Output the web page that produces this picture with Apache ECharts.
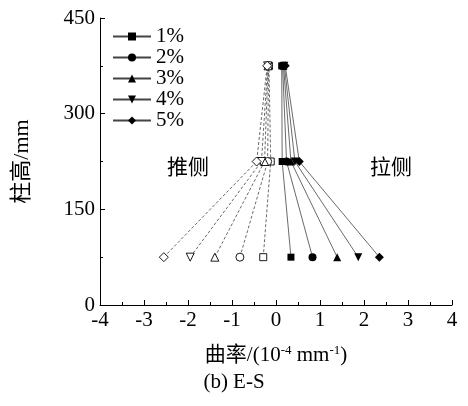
<!DOCTYPE html>
<html>
<head>
<meta charset="utf-8">
<script src="https://cdn.jsdelivr.net/npm/echarts@6/dist/echarts.min.js"></script>
<style>html,body{margin:0;padding:0;background:#fff;}#c{width:468px;height:406px;}</style>
</head>
<body>
<div id="c"></div>
<script>
const seriesNames = ['1%', '2%', '3%', '4%', '5%'];
const heights = [75, 225, 375];
// tension side (拉侧), curvature at heights 75, 225, 375
const tension1 = [0.34, 0.14, 0.13];
const tension2 = [0.83, 0.24, 0.15];
const tension3 = [1.39, 0.34, 0.17];
const tension4 = [1.87, 0.43, 0.19];
const tension5 = [2.35, 0.53, 0.21];
// compression side (推侧)
const push1 = [-0.29, -0.12, -0.16];
const push2 = [-0.82, -0.19, -0.17];
const push3 = [-1.39, -0.26, -0.18];
const push4 = [-1.95, -0.33, -0.19];
const push5 = [-2.55, -0.44, -0.20];
const xTicks = [-4, -3, -2, -1, 0, 1, 2, 3, 4];
const yTicks = [0, 150, 300, 450];

const tensionAll = [tension1, tension2, tension3, tension4, tension5];
const pushAll = [push1, push2, push3, push4, push5];
const symbols = ['rect', 'circle', 'triangle', 'triangle', 'diamond'];
const rotates = [0, 0, 0, 180, 0];
const sizes = [7, 8, 8, 8, 9];

const serif = "'Liberation Serif','Times New Roman','Noto Sans CJK SC',serif";
const series = [];
seriesNames.forEach((n, i) => {
  series.push({
    name: n, type: 'line',
    data: tensionAll[i].map((v, k) => [v, heights[k]]),
    symbol: symbols[i], symbolRotate: rotates[i], symbolSize: sizes[i],
    showAllSymbol: true,
    lineStyle: {color: '#444', width: 0.8},
    itemStyle: {color: '#000', borderColor: '#000', borderWidth: 0},
    emphasis: {disabled: true}, animation: false, z: 3
  });
});
seriesNames.forEach((n, i) => {
  series.push({
    name: n + ' push', type: 'line',
    data: pushAll[i].map((v, k) => [v, heights[k]]),
    symbol: symbols[i], symbolRotate: rotates[i], symbolSize: sizes[i],
    showAllSymbol: true,
    lineStyle: {color: '#444', width: 0.8, type: [3, 2]},
    itemStyle: {color: '#fff', borderColor: '#000', borderWidth: 0.9},
    emphasis: {disabled: true}, animation: false, z: 3
  });
});

const chart = echarts.init(document.getElementById('c'), null, {renderer: 'canvas'});
chart.setOption({
  backgroundColor: '#fff',
  animation: false,
  grid: {left: 100, right: 16, top: 18, bottom: 101, containLabel: false},
  legend: {
    data: seriesNames,
    orient: 'vertical', left: 107, top: 21,
    itemWidth: 38, itemHeight: 10, itemGap: 0,
    textStyle: {fontFamily: serif, fontSize: 21, color: '#000', padding: [0, 0, 0, 0], lineHeight: 21},
    selectedMode: false
  },
  xAxis: {
    type: 'value', min: xTicks[0], max: xTicks[xTicks.length - 1], interval: 1,
    name: '曲率/(10{sup|-4} mm{sup|-1})',
    nameLocation: 'middle', nameGap: 39,
    nameTextStyle: {fontFamily: serif, fontSize: 21, color: '#000',
      rich: {sup: {fontFamily: serif, fontSize: 13, color: '#000', verticalAlign: 'top', lineHeight: 22}}},
    axisLine: {onZero: false, lineStyle: {color: '#000', width: 1}},
    axisTick: {inside: true, length: 5, lineStyle: {color: '#000'}},
    minorTick: {show: true, splitNumber: 2, length: 3, lineStyle: {color: '#000'}},
    axisLabel: {fontFamily: serif, fontSize: 21, color: '#000', margin: 5},
    splitLine: {show: false}
  },
  yAxis: {
    type: 'value', min: yTicks[0], max: yTicks[yTicks.length - 1], interval: 150,
    name: '柱高/mm', nameLocation: 'middle', nameGap: 67, nameRotate: 90,
    nameTextStyle: {fontFamily: serif, fontSize: 22, color: '#000'},
    axisLine: {show: true, onZero: false, lineStyle: {color: '#000', width: 1}},
    axisTick: {show: true, inside: true, length: 5, lineStyle: {color: '#000'}},
    minorTick: {show: true, splitNumber: 2, length: 3, lineStyle: {color: '#000'}},
    axisLabel: {fontFamily: serif, fontSize: 21, color: '#000', margin: 5},
    splitLine: {show: false}
  },
  title: {
    text: '(b) E-S', left: 'center', top: 367,
    textStyle: {fontFamily: serif, fontSize: 21, fontWeight: 'normal', color: '#000'}
  },
  graphic: [
    {type: 'text', left: 167, top: 156, style: {text: '推侧', font: "21px 'Noto Sans CJK SC'", fill: '#000'}},
    {type: 'text', left: 370, top: 156, style: {text: '拉侧', font: "21px 'Noto Sans CJK SC'", fill: '#000'}}
  ],
  series: series
});
</script>
</body>
</html>
